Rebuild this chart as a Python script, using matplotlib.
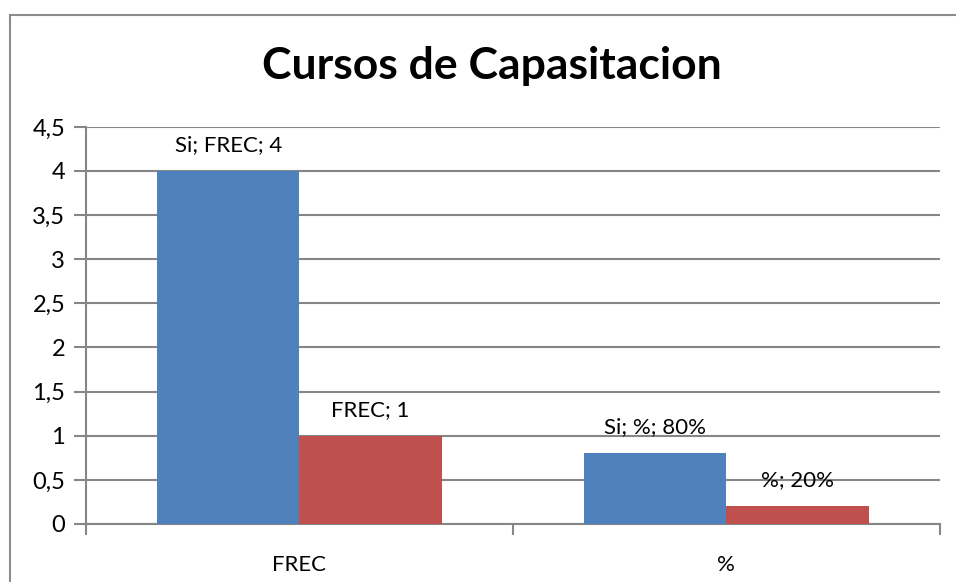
import matplotlib.pyplot as plt
from matplotlib.patches import Rectangle
from matplotlib.ticker import FuncFormatter

# datos
categorias = ["FREC", "%"]
si_vals = [4, 0.8]
no_vals = [1, 0.2]
si_labels = ["Si; FREC; 4", "Si; %; 80%"]
no_labels = ["FREC; 1", "%; 20%"]

plt.rcParams['font.family'] = ['Lato', 'DejaVu Sans']

fig = plt.figure(figsize=(9.56, 5.82), dpi=100)
ax = fig.add_axes([0.090, 0.0997, 0.893, 0.6823])

# borde del grafico
fig.patches.append(Rectangle((10 / 956, -0.2), 1.0, 1.2 - 15 / 582,
                             transform=fig.transFigure, fill=False,
                             edgecolor='#8c8c8c', linewidth=1.5, clip_on=False))

w = 1 / 3
x = range(len(categorias))
b1 = ax.bar([i - w / 2 for i in x], si_vals, width=w, color='#4F81BD', zorder=3)
b2 = ax.bar([i + w / 2 for i in x], no_vals, width=w, color='#C0504D', zorder=3)

for rect, lab in zip(b1, si_labels):
    ax.annotate(lab, (rect.get_x() + rect.get_width() / 2, rect.get_height()),
                xytext=(0, 26), textcoords='offset pixels', ha='center', va='center',
                fontsize=16, zorder=4)
for rect, lab in zip(b2, no_labels):
    ax.annotate(lab, (rect.get_x() + rect.get_width() / 2, rect.get_height()),
                xytext=(0, 26), textcoords='offset pixels', ha='center', va='center',
                fontsize=16, zorder=4)

ax.set_xlim(-0.5, 1.5)
ax.set_ylim(0, 4.5)
ax.set_yticks([i * 0.5 for i in range(10)])
ax.yaxis.set_major_formatter(FuncFormatter(lambda v, p: ('%g' % v).replace('.', ',')))
ax.yaxis.grid(True, color='#868686', linewidth=1.5, zorder=0)

ax.set_xticks(list(x))
ax.set_xticklabels(categorias)
ax.set_xticks([-0.5, 0.5, 1.5], minor=True)
ax.tick_params(axis='x', which='major', length=0, pad=22, labelsize=16)
ax.tick_params(axis='x', which='minor', length=8, width=1.5, color='#868686')
ax.tick_params(axis='y', length=9, width=1.5, color='#868686', labelsize=17, pad=6)

for s in ['top', 'right']:
    ax.spines[s].set_visible(False)
for s in ['left', 'bottom']:
    ax.spines[s].set_color('#868686')
    ax.spines[s].set_linewidth(1.5)

fig.text(0.515, 0.886, "Cursos de Capasitacion", ha='center', va='center',
         fontsize=32, fontweight='bold')

fig.savefig("out.png", dpi=100)
